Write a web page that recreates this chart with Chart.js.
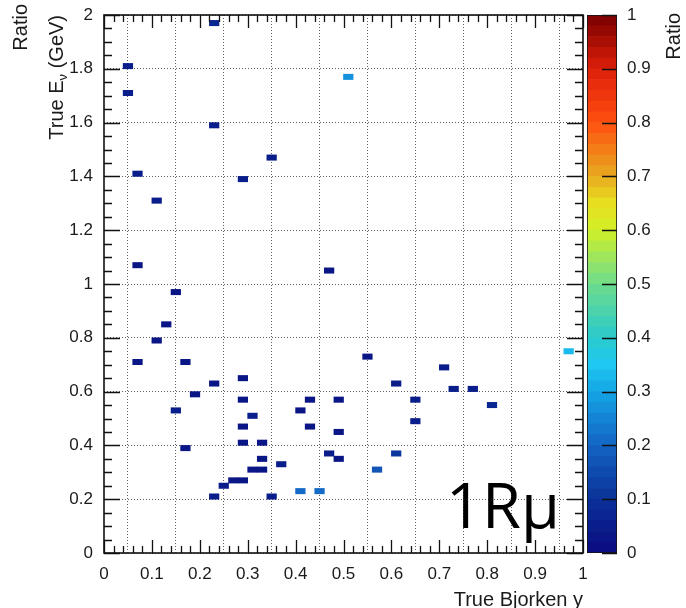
<!DOCTYPE html>
<html>
<head>
<meta charset="utf-8">
<title>1Rmu ratio vs true Bjorken y and true neutrino energy</title>
<script src="https://cdn.jsdelivr.net/npm/chart.js@4.4.1/dist/chart.umd.min.js"></script>
<style>
  html, body { margin: 0; padding: 0; background: #ffffff; }
  #wrap { position: relative; width: 686px; height: 608px; overflow: hidden; background: #ffffff; }
  #wrap canvas { position: absolute; left: 0; top: 0; }
</style>
</head>
<body>
<div id="wrap">
  <canvas id="main" width="686" height="608"></canvas>
  <canvas id="cbar" width="686" height="608"></canvas>
</div>
<script>
// Histogram binning (bin widths in axis units)
const binWidthY = 0.02;   // true Bjorken y
const binWidthE = 0.02;   // true E_nu (GeV)

// Filled bins: bin centres and the ratio stored in each bin
const bjorkenY = [
  0.05, 0.05, 0.07, 0.23, 0.23, 0.11, 0.51, 0.35, 0.29, 0.07,
  0.15, 0.13, 0.11, 0.07, 0.17, 0.23, 0.29, 0.47, 0.55, 0.61,
  0.71, 0.73, 0.77, 0.97, 0.19, 0.29, 0.15, 0.31, 0.29, 0.17,
  0.29, 0.33, 0.33, 0.37, 0.31, 0.33, 0.27, 0.29, 0.25, 0.23,
  0.35, 0.41, 0.45, 0.41, 0.43, 0.43, 0.49, 0.49, 0.47, 0.49,
  0.61, 0.57, 0.65, 0.65, 0.81
];
const trueEnergy = [
  1.81, 1.71, 1.41, 1.97, 1.59, 1.31, 1.77, 1.47, 1.39, 1.07,
  0.97, 0.85, 0.79, 0.71, 0.71, 0.63, 0.65, 1.05, 0.73, 0.63,
  0.69, 0.61, 0.61, 0.75, 0.59, 0.57, 0.53, 0.51, 0.47, 0.39,
  0.41, 0.41, 0.35, 0.33, 0.31, 0.31, 0.27, 0.27, 0.25, 0.21,
  0.21, 0.23, 0.23, 0.53, 0.57, 0.47, 0.57, 0.45, 0.37, 0.35,
  0.37, 0.31, 0.57, 0.49, 0.55
];
const ratio = [
  0.04, 0.04, 0.04, 0.06, 0.04, 0.04, 0.27, 0.04, 0.04, 0.03,
  0.03, 0.03, 0.03, 0.03, 0.03, 0.03, 0.03, 0.03, 0.03, 0.04,
  0.05, 0.04, 0.04, 0.33, 0.03, 0.03, 0.04, 0.04, 0.03, 0.03,
  0.03, 0.03, 0.03, 0.04, 0.03, 0.03, 0.03, 0.03, 0.04, 0.04,
  0.04, 0.20, 0.20, 0.03, 0.03, 0.03, 0.03, 0.03, 0.04, 0.03,
  0.10, 0.17, 0.04, 0.05, 0.06
];

// Axis tick labels
const xTickValues = [0, 0.1, 0.2, 0.3, 0.4, 0.5, 0.6, 0.7, 0.8, 0.9, 1];
const yTickValues = [0, 0.2, 0.4, 0.6, 0.8, 1, 1.2, 1.4, 1.6, 1.8, 2];
const zTickValues = [0, 0.1, 0.2, 0.3, 0.4, 0.5, 0.6, 0.7, 0.8, 0.9, 1];
const fmtTick = v => (Math.round(v * 10) / 10).toString();

// Colour palette (dark blue -> cyan -> green -> yellow -> red), 50 contour levels
const paletteStops = [
  [0.00, [10, 10, 126]],
  [0.10, [10, 50, 152]],
  [0.20, [20, 100, 196]],
  [0.30, [20, 165, 230]],
  [0.35, [30, 200, 240]],
  [0.40, [42, 202, 204]],
  [0.50, [110, 220, 140]],
  [0.60, [210, 240, 40]],
  [0.65, [232, 222, 32]],
  [0.70, [232, 170, 32]],
  [0.80, [255, 80, 16]],
  [0.90, [220, 30, 10]],
  [1.00, [120, 0, 0]]
];
const nLevels = 50;
function paletteAt(t) {
  t = Math.max(0, Math.min(1, t));
  for (let i = 1; i < paletteStops.length; i++) {
    const [t1, c1] = paletteStops[i];
    const [t0, c0] = paletteStops[i - 1];
    if (t <= t1) {
      const f = (t - t0) / (t1 - t0);
      const c = c0.map((v, k) => Math.round(v + f * (c1[k] - v)));
      return `rgb(${c[0]},${c[1]},${c[2]})`;
    }
  }
  const c = paletteStops[paletteStops.length - 1][1];
  return `rgb(${c[0]},${c[1]},${c[2]})`;
}
function levelColor(v) {
  const lvl = Math.min(nLevels - 1, Math.max(0, Math.floor(v * nLevels)));
  return paletteAt((lvl + 0.5) / nLevels);
}

const axisFont = { family: '"Liberation Sans", Arial, Helvetica, sans-serif', size: 17 };
const textColor = '#1a1a1a';

// Keep the plot frame where the layout padding puts it (no label overhang)
const noOverhang = s => { s.paddingTop = 0; s.paddingBottom = 0; s.paddingLeft = 0; s.paddingRight = 0; };

// Frame with inward tick marks on all four sides, ROOT style
function drawInnerTicks(ctx, area, scale, horizontal, step, majorEvery, majorLen, minorLen, both) {
  const n = Math.round((scale.max - scale.min) / step);
  ctx.beginPath();
  for (let i = 0; i <= n; i++) {
    const v = scale.min + i * step;
    const len = (i % majorEvery === 0) ? majorLen : minorLen;
    const p = Math.round(scale.getPixelForValue(v)) + 0.5;
    if (horizontal) {
      ctx.moveTo(p, area.bottom); ctx.lineTo(p, area.bottom - len);
      if (both) { ctx.moveTo(p, area.top); ctx.lineTo(p, area.top + len); }
    } else {
      ctx.moveTo(area.left, p); ctx.lineTo(area.left + len, p);
      if (both) { ctx.moveTo(area.right, p); ctx.lineTo(area.right - len, p); }
    }
  }
  ctx.stroke();
}

const framePlugin = {
  id: 'frame',
  afterDraw(chart) {
    const { ctx, chartArea: a, scales } = chart;
    ctx.save();
    ctx.strokeStyle = '#111';
    ctx.lineWidth = 1.3;
    drawInnerTicks(ctx, a, scales.x, true, 0.02, 5, 13, 7, true);
    drawInnerTicks(ctx, a, scales.y, false, 0.05, 4, 16, 8, true);
    ctx.lineWidth = 1.6;
    ctx.strokeRect(a.left, a.top, a.right - a.left, a.bottom - a.top);

    // Axis titles
    ctx.fillStyle = textColor;
    const f20 = '20px "Liberation Sans", Arial, Helvetica, sans-serif';
    const f13 = '13px "Liberation Sans", Arial, Helvetica, sans-serif';
    ctx.font = f20;
    ctx.textBaseline = 'alphabetic';
    ctx.textAlign = 'right';
    ctx.fillText('True Bjorken y', a.right, 606);

    // y title: "True E_ν (GeV)", rotated, right-aligned to the top of the frame
    ctx.save();
    ctx.translate(63, a.top);
    ctx.rotate(-Math.PI / 2);
    ctx.textAlign = 'left';
    const p1 = 'True E', p3 = ' (GeV)', sub = 'ν';
    ctx.font = f20; const w1 = ctx.measureText(p1).width; const w3 = ctx.measureText(p3).width;
    ctx.font = f13; const w2 = ctx.measureText(sub).width;
    let x0 = -(w1 + w2 + w3);
    ctx.font = f20; ctx.fillText(p1, x0, 0);
    ctx.font = f13; ctx.fillText(sub, x0 + w1, 4);
    ctx.font = f20; ctx.fillText(p3, x0 + w1 + w2, 0);
    ctx.restore();

    // Neighbouring colour-axis title at the top left edge
    ctx.save();
    ctx.translate(27, 4);
    ctx.rotate(-Math.PI / 2);
    ctx.font = f20;
    ctx.textAlign = 'right';
    ctx.fillText('Ratio', 0, 0);
    ctx.restore();

    // Sample label
    ctx.font = '400 63px "Open Sans", "Liberation Sans", sans-serif';
    ctx.textAlign = 'left';
    ctx.fillStyle = '#000';
    ctx.fillText('1Rμ', 446, 528);
    ctx.restore();
  }
};

// Main 2D histogram: each filled bin is a floating bar spanning its energy bin
new Chart(document.getElementById('main'), {
  type: 'bar',
  data: {
    datasets: [{
      label: 'Ratio',
      data: bjorkenY.map((y, i) => ({ x: y, y: [trueEnergy[i] - binWidthE / 2, trueEnergy[i] + binWidthE / 2] })),
      backgroundColor: ratio.map(levelColor),
      borderWidth: 0,
      barPercentage: 1,
      categoryPercentage: 1,
      grouped: false
    }]
  },
  options: {
    responsive: false,
    animation: false,
    devicePixelRatio: 1,
    layout: { padding: { left: 0, top: 15, right: 103, bottom: 0 } },
    plugins: { legend: { display: false }, tooltip: { enabled: false } },
    scales: {
      x: {
        type: 'linear', min: 0, max: 1, offset: false,
        afterBuildTicks: s => { s.ticks = xTickValues.map(v => ({ value: v })); },
        afterFit: s => { s.height = 55; noOverhang(s); },
        ticks: { font: axisFont, color: textColor, padding: 11, maxRotation: 0, autoSkip: false, callback: v => fmtTick(v) },
        grid: { color: 'rgba(40,40,40,0.75)', lineWidth: 1, drawTicks: false },
        border: { display: false, dash: [1, 2] }
      },
      y: {
        type: 'linear', min: 0, max: 2,
        afterBuildTicks: s => { s.ticks = yTickValues.map(v => ({ value: v })); },
        afterFit: s => { s.width = 104; noOverhang(s); },
        ticks: { font: axisFont, color: textColor, padding: 11, autoSkip: false, callback: v => fmtTick(v) },
        grid: { color: 'rgba(40,40,40,0.75)', lineWidth: 1, drawTicks: false },
        border: { display: false, dash: [1, 2] }
      }
    }
  },
  plugins: [framePlugin]
});

// Colour scale: one floating bar per contour level
const levelEdges = Array.from({ length: nLevels }, (_, i) => i / nLevels);
const cbarPlugin = {
  id: 'cbarDecor',
  afterDraw(chart) {
    const { ctx, chartArea: a, scales } = chart;
    ctx.save();
    ctx.strokeStyle = '#111';
    ctx.lineWidth = 1.3;
    ctx.beginPath();
    zTickValues.forEach(v => {
      const p = Math.round(scales.y.getPixelForValue(v)) + 0.5;
      ctx.moveTo(a.right, p); ctx.lineTo(a.right - 15, p);
    });
    ctx.stroke();
    ctx.lineWidth = 1;
    ctx.strokeStyle = 'rgba(20,20,20,0.8)';
    ctx.strokeRect(a.left + 0.5, a.top + 0.5, a.right - a.left - 1, a.bottom - a.top - 1);

    ctx.fillStyle = textColor;
    ctx.font = '20px "Liberation Sans", Arial, Helvetica, sans-serif';
    ctx.translate(680, 13);
    ctx.rotate(-Math.PI / 2);
    ctx.textAlign = 'right';
    ctx.fillText('Ratio', 0, 0);
    ctx.restore();
  }
};

new Chart(document.getElementById('cbar'), {
  type: 'bar',
  data: {
    labels: ['Ratio'],
    datasets: levelEdges.map(lo => ({
      data: [[lo, lo + 1 / nLevels]],
      backgroundColor: paletteAt(lo + 0.5 / nLevels),
      borderWidth: 0,
      barPercentage: 1,
      categoryPercentage: 1,
      grouped: false
    }))
  },
  options: {
    responsive: false,
    animation: false,
    devicePixelRatio: 1,
    layout: { padding: { left: 587, top: 15, right: 0, bottom: 55 } },
    plugins: { legend: { display: false }, tooltip: { enabled: false } },
    scales: {
      x: { display: false },
      y: {
        position: 'right', min: 0, max: 1,
        afterBuildTicks: s => { s.ticks = zTickValues.map(v => ({ value: v })); },
        afterFit: s => { s.width = 69; noOverhang(s); },
        ticks: { font: axisFont, color: textColor, padding: 10, autoSkip: false, callback: v => fmtTick(v) },
        grid: { display: false, drawTicks: false },
        border: { display: false }
      }
    }
  },
  plugins: [cbarPlugin]
});
</script>
</body>
</html>
